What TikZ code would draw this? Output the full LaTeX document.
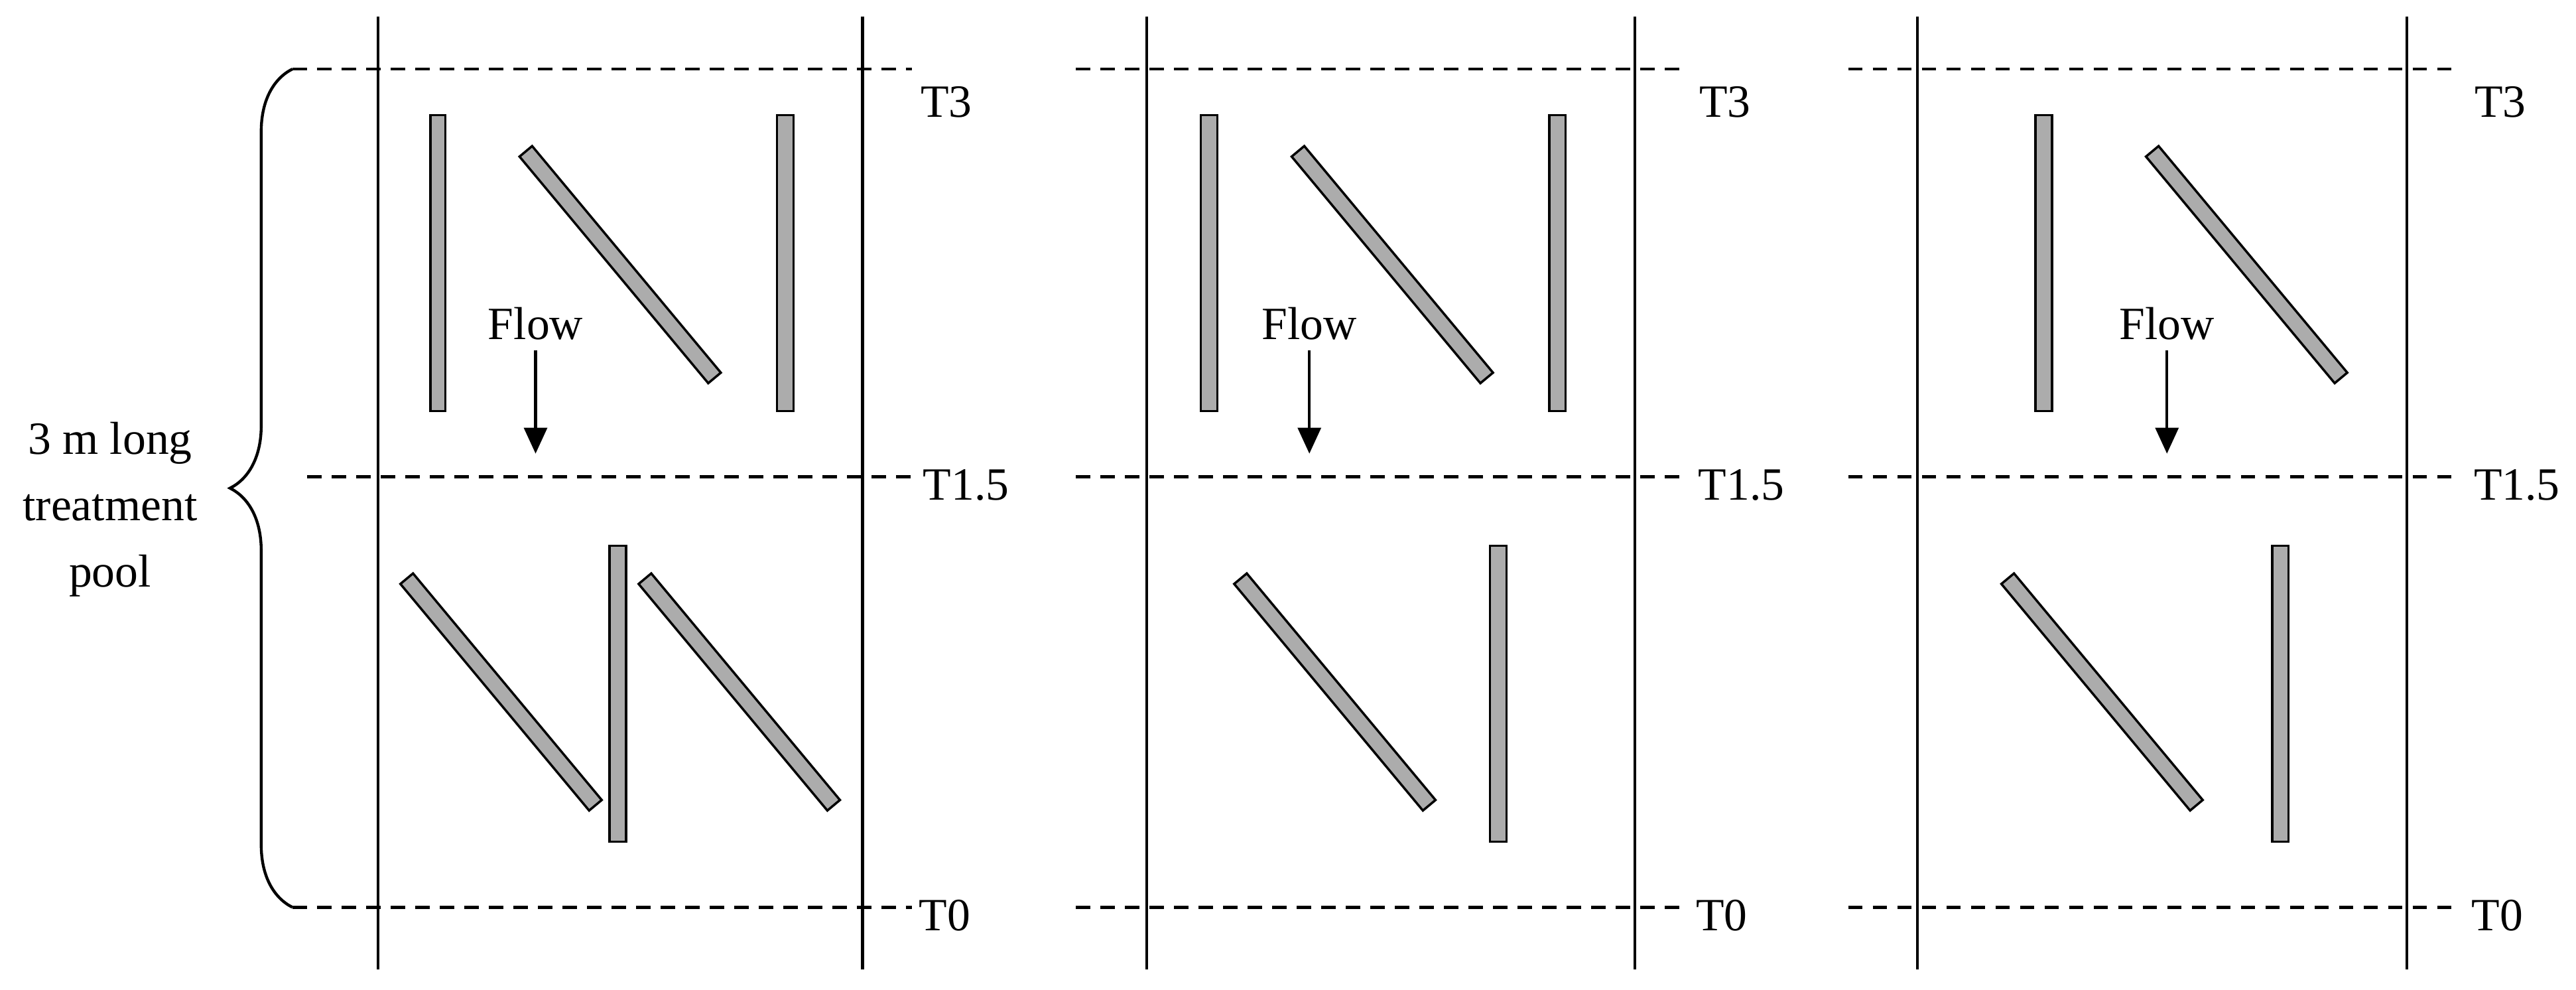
\documentclass[tikz,border=0pt]{standalone}
\usepackage{fontspec}
\setmainfont{Liberation Serif}
\usetikzlibrary{decorations.pathreplacing,arrows.meta}
\begin{document}
\begin{tikzpicture}[x=0.02cm,y=-0.02cm,
  wall/.style={line width=1pt},
  dsh/.style={line width=1pt,dash pattern=on 5pt off 3.5pt},
  bar/.style={draw,line width=0.8pt,fill=gray!65},
  dbar/.style={bar,rectangle,minimum width=3.59cm,minimum height=0.2cm,inner sep=0,rotate=-50.2},
  lab/.style={font=\fontsize{16}{23}\selectfont},
  flowarr/.style={line width=1pt,-{Triangle[length=9pt,width=8pt]}}]
\useasboundingbox (0,0) rectangle (1568,602);
% walls
\foreach \x in {230,525,698,995,1167,1465} \draw[wall] (\x,10) -- (\x,590);
% dashed lines
\draw[dsh] (178,42) -- (555,42); \draw[dsh] (187,290) -- (555,290); \draw[dsh] (178,552) -- (555,552);
\draw[dsh] (655,42) -- (1025,42); \draw[dsh] (655,290) -- (1025,290); \draw[dsh] (655,552) -- (1025,552);
\draw[dsh] (1125,42) -- (1495,42); \draw[dsh] (1125,290) -- (1495,290); \draw[dsh] (1125,552) -- (1495,552);
% labels
\node[lab] (a3) at (576,62) {T3}; \node[lab] (a15) at (588,295) {T1.5}; \node[lab] (a0) at (575,557) {T0};
\node[lab] (b3) at (1050,62) {T3}; \node[lab] (b15) at (1060,295) {T1.5}; \node[lab] (b0) at (1048,557) {T0};
\node[lab] (c3) at (1522,62) {T3}; \node[lab] (c15) at (1532,295) {T1.5}; \node[lab] (c0) at (1520,557) {T0};
% bars panel 1
\draw[bar] (262,70) rectangle (271,250);
\draw[bar] (473,70) rectangle (483,250);
\node[dbar] (p1a) at (377.5,161) {};
\node[dbar] (p1b) at (305,421) {};
\draw[bar] (371,332) rectangle (381,512);
\node[dbar] (p1c) at (450,421) {};
% panel 2
\draw[bar] (731,70) rectangle (741,250);
\node[dbar] (p2a) at (847.5,161) {};
\draw[bar] (943,70) rectangle (953,250);
\node[dbar] (p2b) at (812.5,421) {};
\draw[bar] (907,332) rectangle (917,512);
% panel 3
\draw[bar] (1239,70) rectangle (1249,250);
\node[dbar] (p3a) at (1367.5,161) {};
\node[dbar] (p3b) at (1279.5,421) {};
\draw[bar] (1383,332) rectangle (1393,512);
% flow
\foreach \n/\x in {f1/326,f2/797,f3/1319}{
  \node[lab] (\n) at (\x,197) {Flow};
  \coordinate (\n e) at (\x,276);
  \draw[flowarr] (\n.south) -- (\n e);
}
% brace
\draw[line width=1pt,decorate,decoration={brace,amplitude=0.76cm}] (178,552) -- (178,42);
\node[lab,align=center] (pool) at (67,310) {3 m long\\treatment\\pool};
\end{tikzpicture}
\end{document}
